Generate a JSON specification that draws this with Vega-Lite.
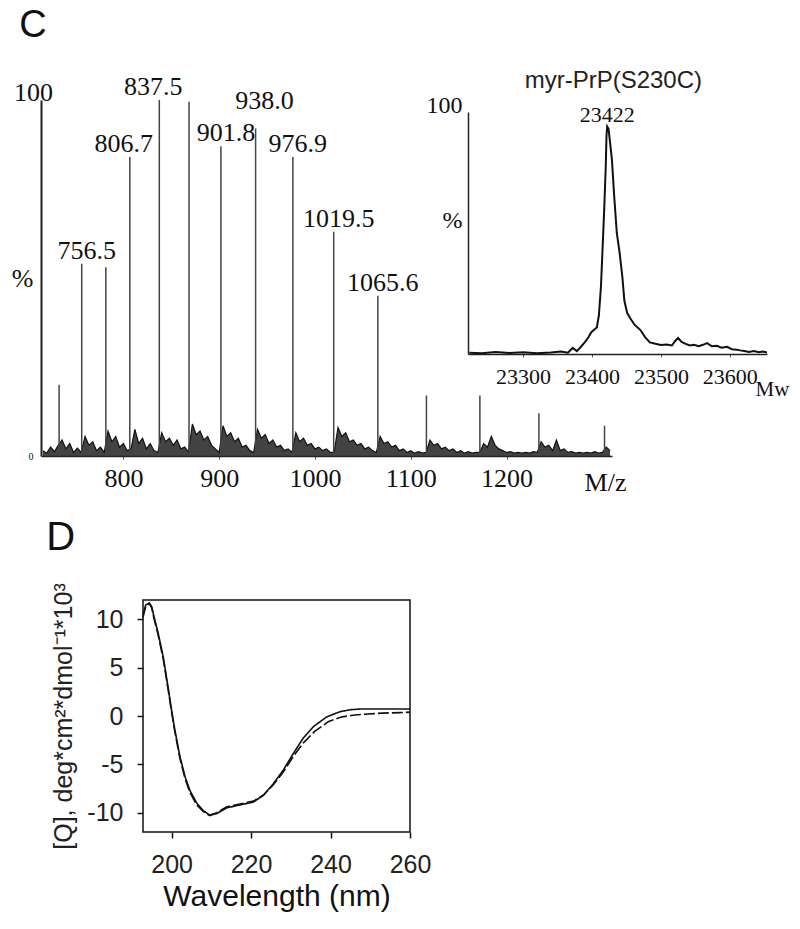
{
  "$schema": "https://vega.github.io/schema/vega-lite/v6.json",
  "width": 800,
  "height": 929,
  "autosize": {"type": "none"},
  "padding": 0,
  "background": "white",
  "config": {"view": {"stroke": null}, "axis": {"grid": false, "labelFlush": false, "labelOverlap": false, "labelBound": false}},
  "datasets": {
    "peaks": [
      {"mz": 732.9, "int": 20, "label": ""},
      {"mz": 756.5, "int": 54, "label": "756.5"},
      {"mz": 781.7, "int": 53, "label": ""},
      {"mz": 806.7, "int": 84, "label": "806.7"},
      {"mz": 837.5, "int": 100, "label": "837.5"},
      {"mz": 868.5, "int": 99.5, "label": ""},
      {"mz": 901.8, "int": 87, "label": "901.8"},
      {"mz": 938.0, "int": 92, "label": "938.0"},
      {"mz": 976.9, "int": 84, "label": "976.9"},
      {"mz": 1019.5, "int": 63, "label": "1019.5"},
      {"mz": 1065.6, "int": 45, "label": "1065.6"},
      {"mz": 1116.3, "int": 17, "label": ""},
      {"mz": 1172.1, "int": 17, "label": ""},
      {"mz": 1233.7, "int": 12, "label": ""},
      {"mz": 1302.2, "int": 8.5, "label": ""}
    ],
    "noise": [
      {"mz": 716, "int": 1.5}, {"mz": 720, "int": 0.8}, {"mz": 724, "int": 2.5}, {"mz": 728, "int": 1.2},
      {"mz": 732, "int": 3.0}, {"mz": 736, "int": 4.5}, {"mz": 740, "int": 2.0}, {"mz": 744, "int": 3.5},
      {"mz": 748, "int": 1.0}, {"mz": 752, "int": 2.2}, {"mz": 756, "int": 1.0}, {"mz": 760, "int": 5.5},
      {"mz": 764, "int": 3.0}, {"mz": 768, "int": 4.0}, {"mz": 772, "int": 1.5}, {"mz": 776, "int": 2.5},
      {"mz": 780, "int": 1.0}, {"mz": 784, "int": 7.0}, {"mz": 788, "int": 4.0}, {"mz": 792, "int": 5.5},
      {"mz": 796, "int": 2.5}, {"mz": 800, "int": 3.5}, {"mz": 804, "int": 1.5}, {"mz": 808, "int": 2.0},
      {"mz": 812, "int": 7.5}, {"mz": 816, "int": 3.5}, {"mz": 820, "int": 5.0}, {"mz": 824, "int": 2.0},
      {"mz": 828, "int": 3.5}, {"mz": 832, "int": 1.5}, {"mz": 836, "int": 1.0}, {"mz": 840, "int": 6.5},
      {"mz": 844, "int": 4.0}, {"mz": 848, "int": 5.0}, {"mz": 852, "int": 3.0}, {"mz": 856, "int": 4.5},
      {"mz": 860, "int": 2.0}, {"mz": 864, "int": 2.5}, {"mz": 868, "int": 1.0}, {"mz": 872, "int": 9.0},
      {"mz": 876, "int": 6.0}, {"mz": 880, "int": 7.0}, {"mz": 884, "int": 4.5}, {"mz": 888, "int": 5.5},
      {"mz": 892, "int": 3.0}, {"mz": 896, "int": 2.0}, {"mz": 900, "int": 1.0}, {"mz": 904, "int": 8.5},
      {"mz": 908, "int": 5.5}, {"mz": 912, "int": 6.5}, {"mz": 916, "int": 4.0}, {"mz": 920, "int": 5.0},
      {"mz": 924, "int": 2.5}, {"mz": 928, "int": 3.0}, {"mz": 932, "int": 1.5}, {"mz": 936, "int": 1.0},
      {"mz": 940, "int": 7.5}, {"mz": 944, "int": 5.0}, {"mz": 948, "int": 6.0}, {"mz": 952, "int": 3.5},
      {"mz": 956, "int": 4.5}, {"mz": 960, "int": 2.5}, {"mz": 964, "int": 3.0}, {"mz": 968, "int": 1.5},
      {"mz": 972, "int": 2.0}, {"mz": 976, "int": 1.0}, {"mz": 980, "int": 6.5}, {"mz": 984, "int": 4.0},
      {"mz": 988, "int": 5.0}, {"mz": 992, "int": 3.0}, {"mz": 996, "int": 3.5}, {"mz": 1000, "int": 2.0},
      {"mz": 1004, "int": 2.5}, {"mz": 1008, "int": 1.5}, {"mz": 1012, "int": 2.0}, {"mz": 1016, "int": 1.0},
      {"mz": 1020, "int": 1.0}, {"mz": 1024, "int": 8.0}, {"mz": 1028, "int": 5.5}, {"mz": 1032, "int": 6.5},
      {"mz": 1036, "int": 4.0}, {"mz": 1040, "int": 4.5}, {"mz": 1044, "int": 3.0}, {"mz": 1048, "int": 3.5},
      {"mz": 1052, "int": 2.0}, {"mz": 1056, "int": 2.5}, {"mz": 1060, "int": 1.5}, {"mz": 1064, "int": 1.0},
      {"mz": 1068, "int": 5.5}, {"mz": 1072, "int": 3.5}, {"mz": 1076, "int": 4.0}, {"mz": 1080, "int": 2.5},
      {"mz": 1084, "int": 3.0}, {"mz": 1088, "int": 1.5}, {"mz": 1092, "int": 2.0}, {"mz": 1096, "int": 1.0},
      {"mz": 1100, "int": 1.5}, {"mz": 1104, "int": 0.8}, {"mz": 1108, "int": 1.2}, {"mz": 1112, "int": 0.8},
      {"mz": 1116, "int": 1.0}, {"mz": 1120, "int": 4.5}, {"mz": 1124, "int": 3.0}, {"mz": 1128, "int": 3.5},
      {"mz": 1132, "int": 2.0}, {"mz": 1136, "int": 2.5}, {"mz": 1140, "int": 1.5}, {"mz": 1144, "int": 2.0},
      {"mz": 1148, "int": 1.0}, {"mz": 1152, "int": 1.5}, {"mz": 1156, "int": 0.8}, {"mz": 1160, "int": 1.2},
      {"mz": 1164, "int": 0.8}, {"mz": 1168, "int": 1.0}, {"mz": 1172, "int": 1.0}, {"mz": 1176, "int": 3.5},
      {"mz": 1180, "int": 2.5}, {"mz": 1184, "int": 5.5}, {"mz": 1188, "int": 3.0}, {"mz": 1192, "int": 2.0},
      {"mz": 1196, "int": 1.5}, {"mz": 1200, "int": 1.0}, {"mz": 1204, "int": 1.2}, {"mz": 1208, "int": 0.8},
      {"mz": 1212, "int": 1.0}, {"mz": 1216, "int": 0.8}, {"mz": 1220, "int": 1.0}, {"mz": 1224, "int": 0.8},
      {"mz": 1228, "int": 1.2}, {"mz": 1232, "int": 1.0}, {"mz": 1236, "int": 4.0}, {"mz": 1240, "int": 2.5},
      {"mz": 1244, "int": 3.0}, {"mz": 1248, "int": 1.5}, {"mz": 1252, "int": 4.5}, {"mz": 1256, "int": 1.5},
      {"mz": 1260, "int": 2.0}, {"mz": 1264, "int": 1.0}, {"mz": 1268, "int": 1.2}, {"mz": 1272, "int": 0.8},
      {"mz": 1276, "int": 1.0}, {"mz": 1280, "int": 0.8}, {"mz": 1284, "int": 1.0}, {"mz": 1288, "int": 0.8},
      {"mz": 1292, "int": 1.2}, {"mz": 1296, "int": 0.8}, {"mz": 1300, "int": 1.0}, {"mz": 1304, "int": 2.5},
      {"mz": 1308, "int": 1.5}
    ],
    "inset": [
      {"mw": 23222, "int": 0.5}, {"mw": 23240, "int": 0.3}, {"mw": 23260, "int": 0.8}, {"mw": 23280, "int": 0.4},
      {"mw": 23300, "int": 0.7}, {"mw": 23320, "int": 0.3}, {"mw": 23340, "int": 0.6}, {"mw": 23355, "int": 1.0},
      {"mw": 23365, "int": 0.5}, {"mw": 23372, "int": 2.5}, {"mw": 23378, "int": 1.2}, {"mw": 23384, "int": 3.0},
      {"mw": 23390, "int": 5.0}, {"mw": 23395, "int": 7.0}, {"mw": 23399, "int": 9.0}, {"mw": 23403, "int": 10.0},
      {"mw": 23407, "int": 11.0}, {"mw": 23410, "int": 16}, {"mw": 23413, "int": 28}, {"mw": 23416, "int": 48},
      {"mw": 23418, "int": 62}, {"mw": 23420, "int": 78}, {"mw": 23421, "int": 90}, {"mw": 23422, "int": 94},
      {"mw": 23424, "int": 93}, {"mw": 23426, "int": 88}, {"mw": 23429, "int": 80}, {"mw": 23432, "int": 66},
      {"mw": 23436, "int": 50}, {"mw": 23440, "int": 42}, {"mw": 23444, "int": 32}, {"mw": 23447, "int": 22},
      {"mw": 23451, "int": 17}, {"mw": 23455, "int": 15}, {"mw": 23462, "int": 12}, {"mw": 23470, "int": 10},
      {"mw": 23477, "int": 7}, {"mw": 23484, "int": 4.8}, {"mw": 23492, "int": 4.2}, {"mw": 23500, "int": 3.7},
      {"mw": 23508, "int": 3.9}, {"mw": 23516, "int": 3.5}, {"mw": 23521, "int": 5.5}, {"mw": 23525, "int": 6.6},
      {"mw": 23530, "int": 5.0}, {"mw": 23536, "int": 4.2}, {"mw": 23542, "int": 3.5}, {"mw": 23548, "int": 3.8},
      {"mw": 23555, "int": 3.2}, {"mw": 23561, "int": 3.8}, {"mw": 23567, "int": 4.5}, {"mw": 23574, "int": 3.2},
      {"mw": 23581, "int": 3.4}, {"mw": 23588, "int": 2.6}, {"mw": 23596, "int": 3.0}, {"mw": 23603, "int": 2.0},
      {"mw": 23610, "int": 1.8}, {"mw": 23615, "int": 1.5}, {"mw": 23621, "int": 1.2}, {"mw": 23628, "int": 0.8},
      {"mw": 23635, "int": 1.2}, {"mw": 23642, "int": 0.7}, {"mw": 23648, "int": 1.0}, {"mw": 23654, "int": 0.6}
    ],
    "insetPeak": [{"mw": 23422, "int": 94, "label": "23422"}],
    "cd": [
      {"wl": 192.8, "val": 10.4, "series": "a"}, {"wl": 193.5, "val": 11.5, "series": "a"},
      {"wl": 194.4, "val": 11.7, "series": "a"}, {"wl": 195.0, "val": 11.3, "series": "a"},
      {"wl": 195.5, "val": 10.4, "series": "a"}, {"wl": 196.6, "val": 8.6, "series": "a"},
      {"wl": 197.9, "val": 6.1, "series": "a"}, {"wl": 199.1, "val": 3.0, "series": "a"},
      {"wl": 200.0, "val": 0.6, "series": "a"}, {"wl": 200.8, "val": -1.4, "series": "a"},
      {"wl": 202.1, "val": -4.2, "series": "a"}, {"wl": 203.4, "val": -6.3, "series": "a"},
      {"wl": 204.6, "val": -7.7, "series": "a"}, {"wl": 206.3, "val": -9.0, "series": "a"},
      {"wl": 208.0, "val": -9.8, "series": "a"}, {"wl": 209.6, "val": -10.25, "series": "a"},
      {"wl": 211.3, "val": -10.1, "series": "a"}, {"wl": 213.9, "val": -9.5, "series": "a"},
      {"wl": 217.2, "val": -9.2, "series": "a"}, {"wl": 220.6, "val": -8.9, "series": "a"},
      {"wl": 223.1, "val": -8.2, "series": "a"}, {"wl": 225.6, "val": -7.0, "series": "a"},
      {"wl": 228.1, "val": -5.6, "series": "a"}, {"wl": 230.6, "val": -3.9, "series": "a"},
      {"wl": 233.1, "val": -2.3, "series": "a"}, {"wl": 235.7, "val": -1.1, "series": "a"},
      {"wl": 239.0, "val": -0.1, "series": "a"}, {"wl": 242.4, "val": 0.45, "series": "a"},
      {"wl": 245.0, "val": 0.65, "series": "a"}, {"wl": 247.4, "val": 0.72, "series": "a"},
      {"wl": 252.0, "val": 0.72, "series": "a"}, {"wl": 257.5, "val": 0.72, "series": "a"},
      {"wl": 260.0, "val": 0.72, "series": "a"},
      {"wl": 192.8, "val": 10.2, "series": "b"}, {"wl": 193.5, "val": 11.4, "series": "b"},
      {"wl": 194.4, "val": 11.6, "series": "b"}, {"wl": 195.0, "val": 11.2, "series": "b"},
      {"wl": 195.5, "val": 10.2, "series": "b"}, {"wl": 196.6, "val": 8.4, "series": "b"},
      {"wl": 197.9, "val": 5.9, "series": "b"}, {"wl": 199.1, "val": 2.8, "series": "b"},
      {"wl": 200.0, "val": 0.4, "series": "b"}, {"wl": 200.8, "val": -1.6, "series": "b"},
      {"wl": 202.1, "val": -4.4, "series": "b"}, {"wl": 203.4, "val": -6.5, "series": "b"},
      {"wl": 204.6, "val": -7.9, "series": "b"}, {"wl": 206.3, "val": -9.2, "series": "b"},
      {"wl": 208.0, "val": -9.9, "series": "b"}, {"wl": 209.6, "val": -10.3, "series": "b"},
      {"wl": 211.3, "val": -10.0, "series": "b"}, {"wl": 213.9, "val": -9.4, "series": "b"},
      {"wl": 217.2, "val": -9.1, "series": "b"}, {"wl": 220.6, "val": -8.8, "series": "b"},
      {"wl": 223.1, "val": -8.2, "series": "b"}, {"wl": 225.6, "val": -7.1, "series": "b"},
      {"wl": 228.1, "val": -5.8, "series": "b"}, {"wl": 230.6, "val": -4.2, "series": "b"},
      {"wl": 233.1, "val": -2.8, "series": "b"}, {"wl": 236.0, "val": -1.6, "series": "b"},
      {"wl": 239.4, "val": -0.6, "series": "b"}, {"wl": 242.7, "val": -0.1, "series": "b"},
      {"wl": 246.1, "val": 0.1, "series": "b"}, {"wl": 249.3, "val": 0.2, "series": "b"},
      {"wl": 253.0, "val": 0.3, "series": "b"}, {"wl": 257.5, "val": 0.35, "series": "b"},
      {"wl": 260.0, "val": 0.4, "series": "b"}
    ]
  },
  "resolve": {"scale": {"x": "independent", "y": "independent"}, "axis": {"x": "independent", "y": "independent"}},
  "layer": [
    {
      "layer": [
        {
          "data": {"name": "noise"},
          "mark": {"type": "area", "color": "#222", "opacity": 0.85},
          "encoding": {
            "x": {
              "field": "mz", "type": "quantitative",
              "scale": {"domain": [714, 1310], "range": [41, 612], "nice": false, "zero": false},
              "axis": {
                "orient": "bottom", "offset": -473, "values": [800, 900, 1000, 1100, 1200], "format": "d",
                "labelFont": "Liberation Serif", "labelFontSize": 26, "labelColor": "#111", "labelPadding": 6,
                "tickSize": 3, "tickColor": "#555", "domainColor": "#222", "domainWidth": 1.5,
                "title": "M/z", "titleFont": "Liberation Serif", "titleFontSize": 26, "titleFontWeight": "normal",
                "titleColor": "#111", "titleX": 605, "titleY": 34, "titleAlign": "center", "titleBaseline": "alphabetic"
              }
            },
            "y": {
              "field": "int", "type": "quantitative",
              "scale": {"domain": [0, 100], "range": [456, 100], "nice": false},
              "axis": {
                "orient": "left", "offset": -41, "values": [0, 50, 100],
                "labelExpr": "datum.value == 50 ? '%' : datum.label",
                "labelFont": "Liberation Serif",
                "labelFontSize": {"condition": {"test": "datum.value == 0", "value": 10}, "value": 26},
                "labelAlign": {"condition": {"test": "datum.value == 100", "value": "center"}, "value": "right"},
                "labelBaseline": {"condition": {"test": "datum.value == 100", "value": "alphabetic"}, "value": "middle"},
                "labelPadding": 8, "labelColor": "#111", "tickSize": 0,
                "domainColor": "#222", "domainWidth": 2, "title": null
              }
            }
          }
        },
        {
          "data": {"name": "noise"},
          "mark": {"type": "line", "color": "#111", "strokeWidth": 1.2},
          "encoding": {
            "x": {"field": "mz", "type": "quantitative"},
            "y": {"field": "int", "type": "quantitative"}
          }
        },
        {
          "data": {"name": "peaks"},
          "mark": {"type": "rule", "color": "#444", "strokeWidth": 1.5},
          "encoding": {
            "x": {"field": "mz", "type": "quantitative"},
            "y": {"field": "int", "type": "quantitative"},
            "y2": {"datum": 0}
          }
        },
        {
          "data": {"name": "peaks"},
          "transform": [{"filter": "datum.label == '806.7' || datum.label == '837.5'"}],
          "mark": {"type": "text", "font": "Liberation Serif", "fontSize": 26, "color": "#111", "baseline": "alphabetic", "dy": -5, "dx": -6},
          "encoding": {
            "x": {"field": "mz", "type": "quantitative"},
            "y": {"field": "int", "type": "quantitative"},
            "text": {"field": "label"}
          }
        },
        {
          "data": {"name": "peaks"},
          "transform": [{"filter": "datum.label == '938.0'"}],
          "mark": {"type": "text", "font": "Liberation Serif", "fontSize": 26, "color": "#111", "baseline": "alphabetic", "dy": -19, "dx": 9},
          "encoding": {
            "x": {"field": "mz", "type": "quantitative"},
            "y": {"field": "int", "type": "quantitative"},
            "text": {"field": "label"}
          }
        },
        {
          "data": {"name": "peaks"},
          "transform": [{"filter": "datum.label == '756.5' || datum.label == '901.8' || datum.label == '976.9' || datum.label == '1019.5' || datum.label == '1065.6'"}],
          "mark": {"type": "text", "font": "Liberation Serif", "fontSize": 26, "color": "#111", "baseline": "alphabetic", "dy": -5, "dx": 5},
          "encoding": {
            "x": {"field": "mz", "type": "quantitative"},
            "y": {"field": "int", "type": "quantitative"},
            "text": {"field": "label"}
          }
        },
        {
          "data": {"values": [{}]},
          "mark": {"type": "text", "text": "C", "font": "Liberation Sans", "fontSize": 38, "color": "#111", "align": "center", "baseline": "middle"},
          "encoding": {"x": {"datum": 705.6}, "y": {"datum": 120.8}}
        }
      ]
    },
    {
      "layer": [
        {
          "data": {"name": "inset"},
          "mark": {"type": "line", "color": "#111", "strokeWidth": 2},
          "encoding": {
            "x": {
              "field": "mw", "type": "quantitative",
              "scale": {"domain": [23220, 23654], "range": [468, 767], "nice": false, "zero": false},
              "axis": {
                "orient": "bottom", "offset": -575, "values": [23300, 23400, 23500, 23600], "format": "d",
                "labelFont": "Liberation Serif", "labelFontSize": 22, "labelColor": "#111", "labelPadding": 9,
                "tickSize": 3, "tickColor": "#555", "domainColor": "#222", "domainWidth": 1.5,
                "title": "Mw", "titleFont": "Liberation Serif", "titleFontSize": 21, "titleFontWeight": "normal",
                "titleColor": "#111", "titleX": 772, "titleY": 41, "titleAlign": "center", "titleBaseline": "alphabetic"
              }
            },
            "y": {
              "field": "int", "type": "quantitative",
              "scale": {"domain": [0, 100], "range": [354, 112], "nice": false},
              "axis": {
                "orient": "left", "offset": -468, "values": [55, 100],
                "labelExpr": "datum.value == 100 ? '100' : '%'",
                "labelFont": "Liberation Serif", "labelFontSize": 24,
                "labelAlign": "right",
                "labelBaseline": {"condition": {"test": "datum.value == 100", "value": "alphabetic"}, "value": "middle"},
                "labelPadding": 6, "labelColor": "#111", "tickSize": 0,
                "domainColor": "#222", "domainWidth": 1.5, "title": null
              }
            }
          }
        },
        {
          "data": {"name": "insetPeak"},
          "mark": {"type": "text", "font": "Liberation Serif", "fontSize": 22, "color": "#111", "baseline": "alphabetic", "dy": -5},
          "encoding": {
            "x": {"field": "mw", "type": "quantitative"},
            "y": {"field": "int", "type": "quantitative"},
            "text": {"field": "label"}
          }
        },
        {
          "data": {"values": [{}]},
          "mark": {"type": "text", "text": "myr-PrP(S230C)", "font": "Liberation Sans", "fontSize": 24, "color": "#222", "align": "center", "baseline": "middle"},
          "encoding": {"x": {"datum": 23431}, "y": {"datum": 113}}
        }
      ]
    },
    {
      "layer": [
        {
          "data": {"values": [{}]},
          "mark": {"type": "rect", "fill": "transparent", "stroke": "#111", "strokeWidth": 1.5},
          "encoding": {
            "x": {
              "datum": 192.8, "type": "quantitative",
              "scale": {"domain": [192.8, 260], "range": [143, 410], "nice": false, "zero": false},
              "axis": {
                "orient": "bottom", "offset": -97, "values": [200, 220, 240, 260],
                "labelFont": "Liberation Sans", "labelFontSize": 25, "labelColor": "#222", "labelPadding": 14,
                "tickSize": 6, "tickColor": "#111", "tickWidth": 1.5, "domain": false,
                "title": "Wavelength (nm)", "titleFont": "Liberation Sans", "titleFontSize": 30, "titleFontWeight": "normal",
                "titleColor": "#111", "titlePadding": 4
              }
            },
            "x2": {"datum": 260},
            "y": {
              "datum": -12, "type": "quantitative",
              "scale": {"domain": [-12, 12], "range": [832, 600], "nice": false, "zero": false},
              "axis": {
                "orient": "left", "offset": -143, "values": [-10, -5, 0, 5, 10],
                "labelExpr": "'' + datum.value",
                "labelFont": "Liberation Sans", "labelFontSize": 25, "labelColor": "#222", "labelPadding": 14,
                "tickSize": 6, "tickColor": "#111", "tickWidth": 1.5, "domain": false,
                "title": "[Q], deg*cm²*dmol⁻¹*10³", "titleFont": "Liberation Sans", "titleFontSize": 25,
                "titleFontWeight": "normal", "titleColor": "#222", "titlePadding": 10
              }
            },
            "y2": {"datum": 12}
          }
        },
        {
          "data": {"name": "cd"},
          "mark": {"type": "line", "color": "#111", "strokeWidth": 1.6},
          "encoding": {
            "x": {"field": "wl", "type": "quantitative"},
            "y": {"field": "val", "type": "quantitative"},
            "detail": {"field": "series"},
            "strokeDash": {"field": "series", "type": "nominal", "scale": {"domain": ["a", "b"], "range": [[1, 0], [11, 3]]}, "legend": null}
          }
        },
        {
          "data": {"values": [{}]},
          "mark": {"type": "text", "text": "D", "font": "Liberation Sans", "fontSize": 40, "color": "#111", "align": "center", "baseline": "middle"},
          "encoding": {"x": {"datum": 172.1}, "y": {"datum": 18.4}}
        }
      ]
    }
  ]
}
